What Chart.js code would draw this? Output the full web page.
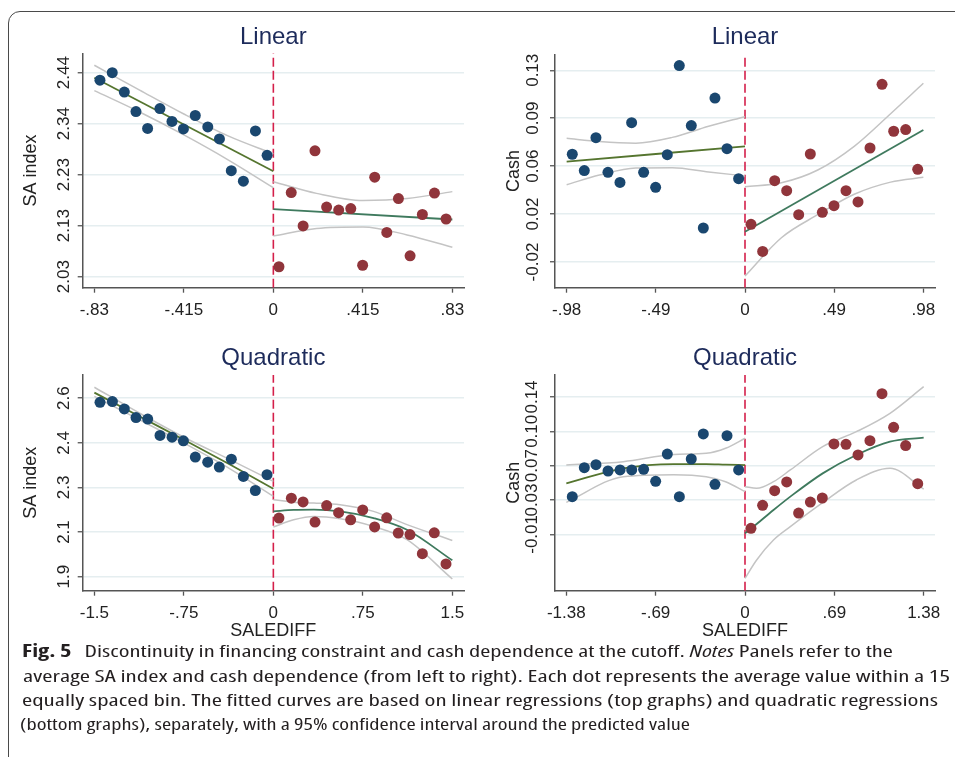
<!DOCTYPE html>
<html><head><meta charset="utf-8">
<script src="https://cdn.jsdelivr.net/npm/chart.js@4/dist/chart.umd.min.js"></script>
<style>
html,body{margin:0;padding:0;background:#fff;width:955px;height:757px;overflow:hidden;position:relative;}
#frame{position:absolute;left:8px;top:11px;width:990px;height:800px;border:1.5px solid #4a4a4a;border-radius:12px;box-sizing:border-box;}
canvas.p{position:absolute;}
.cl{position:absolute;white-space:nowrap;transform-origin:0 0;font-family:"Liberation Sans Narrow","Open Sans",sans-serif;font-stretch:condensed;font-size:17px;line-height:20px;color:#231f20;}
.cl b{font-weight:bold;margin-right:9px;}
</style></head>
<body>
<div id="frame"></div>
<canvas class="p" id="c1" width="478" height="324" style="left:0;top:12px"></canvas>
<canvas class="p" id="c2" width="477" height="324" style="left:478px;top:12px"></canvas>
<canvas class="p" id="c3" width="478" height="310" style="left:0;top:336px"></canvas>
<canvas class="p" id="c4" width="477" height="310" style="left:478px;top:336px"></canvas>
<div class="cl" id="l1" style="left:22px;top:641px"><b>Fig. 5</b>Discontinuity in financing constraint and cash dependence at the cutoff. <i>Notes</i> Panels refer to the</div>
<div class="cl" id="l2" style="left:22.5px;top:665.5px">average SA index and cash dependence (from left to right). Each dot represents the average value within a 15</div>
<div class="cl" id="l3" style="left:22px;top:689.5px">equally spaced bin. The fitted curves are based on linear regressions (top graphs) and quadratic regressions</div>
<div class="cl" id="l4" style="left:20px;top:714px">(bottom graphs), separately, with a 95% confidence interval around the predicted value</div>
<script>
// ---------- Panel 1: SA index, linear ----------
const saLinBinXLeft  = [-0.804,-0.747,-0.691,-0.637,-0.583,-0.526,-0.470,-0.417,-0.362,-0.304,-0.250,-0.195,-0.139,-0.083,-0.029];
const saLinBinYLeft  = [2.425,2.440,2.401,2.362,2.328,2.368,2.342,2.327,2.354,2.331,2.307,2.243,2.222,2.323,2.274];
const saLinBinXRight = [0.026,0.083,0.138,0.193,0.247,0.303,0.359,0.414,0.470,0.526,0.580,0.634,0.691,0.747,0.801];
const saLinBinYRight = [2.050,2.199,2.132,2.283,2.170,2.164,2.167,2.053,2.230,2.119,2.187,2.072,2.155,2.198,2.146];
const saLinFitXLeft  = [-0.83,0];
const saLinFitYLeft  = [2.430,2.242];
const saLinCiXLeft   = [-0.83,-0.62,-0.415,-0.21,0];
const saLinCiHiLeft  = [2.455,2.405,2.357,2.313,2.277];
const saLinCiLoLeft  = [2.404,2.361,2.315,2.265,2.209];
const saLinFitXRight = [0,0.83];
const saLinFitYRight = [2.166,2.145];
const saLinCiXRight  = [0,0.2,0.415,0.62,0.83];
const saLinCiHiRight = [2.221,2.1975,2.183,2.187,2.201];
const saLinCiLoRight = [2.112,2.127,2.130,2.114,2.089];
const saLinXTicks = [-0.83,-0.415,0,0.415,0.83];
const saLinXLabels = ['-.83','-.415','0','.415','.83'];
const saLinYTicks = [2.03,2.1325,2.235,2.3375,2.44];
const saLinYLabels = ['2.03','2.13','2.23','2.34','2.44'];

// ---------- Panel 2: Cash, linear ----------
const cashLinBinXLeft  = [-0.949,-0.883,-0.819,-0.753,-0.687,-0.623,-0.557,-0.491,-0.427,-0.361,-0.295,-0.229,-0.165,-0.099,-0.035];
const cashLinBinYLeft  = [0.0643,0.0515,0.0773,0.0502,0.0423,0.0890,0.0502,0.0384,0.0640,0.1337,0.0867,0.0066,0.1083,0.0687,0.0452];
const cashLinBinXRight = [0.033,0.097,0.163,0.229,0.295,0.359,0.425,0.489,0.555,0.621,0.687,0.753,0.817,0.883,0.949];
const cashLinBinYRight = [0.0095,-0.0117,0.0436,0.0358,0.0170,0.0645,0.0189,0.0241,0.0358,0.0270,0.0692,0.1190,0.0823,0.0836,0.0525];
const cashLinFitXLeft  = [-0.98,0];
const cashLinFitYLeft  = [0.0585,0.0705];
const cashLinCiXLeft   = [-0.98,-0.8,-0.6,-0.4,-0.2,0];
const cashLinCiHiLeft  = [0.0768,0.0742,0.0730,0.0775,0.0862,0.0937];
const cashLinCiLoLeft  = [0.0405,0.0480,0.0535,0.0538,0.0505,0.0473];
const cashLinFitXRight = [0,0.98];
const cashLinFitYRight = [0.0037,0.0833];
const cashLinCiXRight  = [0,0.2,0.4,0.6,0.8,0.98];
const cashLinCiHiRight = [0.0389,0.0420,0.0520,0.0705,0.0960,0.1198];
const cashLinCiLoRight = [-0.031,-0.0010,0.0170,0.0330,0.0425,0.0463];
const cashLinXTicks = [-0.98,-0.49,0,0.49,0.98];
const cashLinXLabels = ['-.98','-.49','0','.49','.98'];
const cashLinYTicks = [-0.02,0.0175,0.055,0.0925,0.13];
const cashLinYLabels = ['-0.02','0.02','0.06','0.09','0.13'];

// ---------- Panel 3: SA index, quadratic ----------
const saQuadBinXLeft  = [-1.453,-1.349,-1.249,-1.151,-1.053,-0.950,-0.849,-0.754,-0.654,-0.550,-0.453,-0.352,-0.251,-0.151,-0.053];
const saQuadBinYLeft  = [2.584,2.587,2.558,2.524,2.518,2.454,2.447,2.433,2.369,2.349,2.330,2.361,2.293,2.238,2.300];
const saQuadBinXRight = [0.047,0.151,0.249,0.349,0.447,0.547,0.648,0.749,0.849,0.950,1.047,1.145,1.249,1.349,1.447];
const saQuadBinYRight = [2.130,2.208,2.193,2.114,2.179,2.151,2.123,2.162,2.095,2.131,2.071,2.065,1.990,2.072,1.950];
const saQuadCurveXLeft = [-1.5,-1.12,-0.75,-0.36,0];
const saQuadFitLeft    = [2.622,2.528,2.437,2.339,2.245];
const saQuadCiHiLeft   = [2.643,2.541,2.447,2.358,2.274];
const saQuadCiLoLeft   = [2.607,2.515,2.424,2.322,2.215];
const saQuadCurveXRight = [0,0.17,0.34,0.56,0.84,1.12,1.5];
const saQuadFitRight    = [2.156,2.162,2.163,2.156,2.130,2.084,1.964];
const saQuadCiHiRight   = [2.202,2.192,2.189,2.182,2.156,2.104,2.042];
const saQuadCiLoRight   = [2.095,2.123,2.136,2.127,2.097,2.045,1.891];
const saQuadXTicks = [-1.5,-0.75,0,0.75,1.5];
const saQuadXLabels = ['-1.5','-.75','0','.75','1.5'];
const saQuadYTicks = [1.9,2.075,2.25,2.425,2.6];
const saQuadYLabels = ['1.9','2.1','2.3','2.4','2.6'];

// ---------- Panel 4: Cash, quadratic ----------
const cashQuadBinXLeft  = [-1.334,-1.241,-1.151,-1.058,-0.965,-0.875,-0.783,-0.690,-0.600,-0.507,-0.415,-0.322,-0.232,-0.139,-0.049];
const cashQuadBinYLeft  = [0.0312,0.0628,0.0661,0.0592,0.0603,0.0603,0.0610,0.0479,0.0777,0.0312,0.0723,0.0996,0.0446,0.0978,0.0603];
const cashQuadBinXRight = [0.046,0.136,0.229,0.322,0.414,0.505,0.597,0.687,0.780,0.873,0.965,1.058,1.148,1.241,1.334];
const cashQuadBinYRight = [-0.0034,0.0217,0.0377,0.0472,0.0133,0.0253,0.0297,0.0887,0.0883,0.0767,0.0923,0.1436,0.1069,0.0869,0.0453];
const cashQuadCurveXLeft = [-1.38,-0.94,-0.55,-0.3,-0.15,0];
const cashQuadFitLeft    = [0.0457,0.0621,0.0668,0.0668,0.0662,0.0657];
const cashQuadCiHiLeft   = [0.0657,0.0694,0.0772,0.0785,0.0840,0.0949];
const cashQuadCiLoLeft   = [0.0250,0.0530,0.0552,0.0530,0.0475,0.0366];
const cashQuadCurveXRight = [0,0.09,0.22,0.35,0.6,0.86,1.12,1.38];
const cashQuadFitRight    = [-0.0089,0.0013,0.0166,0.0312,0.0566,0.0767,0.0912,0.0956];
const cashQuadCiHiRight   = [0.0421,0.0403,0.0475,0.0603,0.0858,0.1021,0.1222,0.1513];
const cashQuadCiLoRight   = [-0.058,-0.038,-0.0162,-0.0016,0.0246,0.0494,0.0621,0.0395];
const cashQuadXTicks = [-1.38,-0.69,0,0.69,1.38];
const cashQuadXLabels = ['-1.38','-.69','0','.69','1.38'];
const cashQuadYTicks = [-0.01,0.0275,0.065,0.1025,0.14];
const cashQuadYLabels = ['-0.01','0.03','0.07','0.10','0.14'];

const cutoff = 0;

// ---------- styling ----------
const FONT = '"Liberation Sans", Arial, Helvetica, sans-serif';
const C_BLUE = '#1a476f', C_RED = '#90353b', C_FITL = '#55752f', C_FITR = '#3f7a5e', C_CI = '#c4c4c4', C_CUT = '#d41f4a';
const C_AXIS = '#555555', C_GRID = '#e5eef0', C_TITLE = '#1d2b5b', C_TEXT = '#222222';

function pts(xs, ys) { return xs.map((x, i) => ({ x: x, y: ys[i] })); }
function line(xs, ys, color, w) {
  return { data: pts(xs, ys), showLine: true, pointRadius: 0, borderColor: color, borderWidth: w,
           backgroundColor: color, cubicInterpolationMode: 'monotone', fill: false };
}

function build(id, P) {
  const ds = [
    { data: pts(P.bxL, P.byL), pointRadius: 5.5, pointBackgroundColor: C_BLUE, pointBorderWidth: 0, backgroundColor: C_BLUE, showLine: false },
    { data: pts(P.bxR, P.byR), pointRadius: 5.5, pointBackgroundColor: C_RED, pointBorderWidth: 0, backgroundColor: C_RED, showLine: false },
    line(P.fxL, P.fyL, C_FITL, 1.8),
    line(P.fxR, P.fyR, C_FITR, 1.8),
    line(P.cxL, P.chL, C_CI, 1.5),
    line(P.cxL, P.clL, C_CI, 1.5),
    line(P.cxR, P.chR, C_CI, 1.5),
    line(P.cxR, P.clR, C_CI, 1.5),
    Object.assign(line([cutoff, cutoff], [P.ymin, P.ymax], C_CUT, 1.6), { borderDash: [9, 4], cubicInterpolationMode: 'default', tension: 0 })
  ];
  const L = P.lay;
  return new Chart(document.getElementById(id), {
    type: 'scatter',
    data: { datasets: ds },
    options: {
      responsive: false, animation: false, devicePixelRatio: 1,
      layout: { padding: { left: 0, right: L.rp, top: 0, bottom: 0 } },
      plugins: {
        legend: { display: false }, tooltip: { enabled: false },
        title: { display: true, text: P.title, color: C_TITLE, fullSize: false,
                 font: { family: FONT, size: 24, weight: 'normal', lineHeight: 1.2 },
                 padding: { top: L.ta, bottom: L.tb } }
      },
      scales: {
        x: {
          type: 'linear', position: 'bottom', min: P.xmin, max: P.xmax,
          afterBuildTicks: s => { s.ticks = P.xt.map(v => ({ value: v })); },
          afterFit: s => { s.height = L.xh; },
          ticks: { autoSkip: false, minRotation: 0, maxRotation: 0, padding: 7, color: C_TEXT,
                   font: { family: FONT, size: 17 }, callback: (v, i) => P.xl[i] },
          grid: { drawOnChartArea: false, drawTicks: true, tickLength: 5, tickColor: C_AXIS, tickWidth: 1.3 },
          border: { display: true, color: C_AXIS, width: 1.5 },
          title: { display: !!P.xtitle, text: P.xtitle || '', color: C_TEXT,
                   font: { family: FONT, size: 18, lineHeight: 1.2 }, padding: { top: 0, bottom: L.xtb } }
        },
        y: {
          type: 'linear', position: 'left', min: P.ymin, max: P.ymax,
          afterBuildTicks: s => { s.ticks = P.yt.map(v => ({ value: v })); },
          afterFit: s => { s.width = L.yw; },
          ticks: { autoSkip: false, minRotation: 90, maxRotation: 90, crossAlign: 'center', padding: L.yp,
                   color: C_TEXT, font: { family: FONT, size: 17 }, callback: (v, i) => P.yl[i] },
          grid: { drawOnChartArea: true, color: C_GRID, lineWidth: 1.5, drawTicks: true, tickLength: 5, tickColor: C_AXIS, tickWidth: 1.3 },
          border: { display: true, color: C_AXIS, width: 1.5 },
          title: { display: true, text: P.ytitle, color: C_TEXT,
                   font: { family: FONT, size: 18, lineHeight: 1.2 }, padding: { top: L.ytp, bottom: 0 } }
        }
      }
    }
  });
}

build('c1', {
  title: 'Linear', ytitle: 'SA index', xtitle: null,
  bxL: saLinBinXLeft, byL: saLinBinYLeft, bxR: saLinBinXRight, byR: saLinBinYRight,
  fxL: saLinFitXLeft, fyL: saLinFitYLeft, fxR: saLinFitXRight, fyR: saLinFitYRight,
  cxL: saLinCiXLeft, chL: saLinCiHiLeft, clL: saLinCiLoLeft,
  cxR: saLinCiXRight, chR: saLinCiHiRight, clR: saLinCiLoRight,
  xt: saLinXTicks, xl: saLinXLabels, yt: saLinYTicks, yl: saLinYLabels,
  xmin: -0.884, xmax: 0.884, ymin: 2.0079, ymax: 2.479,
  lay: { rp: 14, ta: 11.3, tb: 1.2, xh: 48.3, yw: 82.7, yp: -3, ytp: 20.2, xtb: 0 }
});
build('c2', {
  title: 'Linear', ytitle: 'Cash', xtitle: null,
  bxL: cashLinBinXLeft, byL: cashLinBinYLeft, bxR: cashLinBinXRight, byR: cashLinBinYRight,
  fxL: cashLinFitXLeft, fyL: cashLinFitYLeft, fxR: cashLinFitXRight, fyR: cashLinFitYRight,
  cxL: cashLinCiXLeft, chL: cashLinCiHiLeft, clL: cashLinCiLoLeft,
  cxR: cashLinCiXRight, chR: cashLinCiHiRight, clR: cashLinCiLoRight,
  xt: cashLinXTicks, xl: cashLinXLabels, yt: cashLinYTicks, yl: cashLinYLabels,
  xmin: -1.044, xmax: 1.044, ymin: -0.0401, ymax: 0.1425,
  lay: { rp: 20, ta: 11.3, tb: 2.2, xh: 48.3, yw: 77, yp: -2.7, ytp: 25.2, xtb: 0 }
});
build('c3', {
  title: 'Quadratic', ytitle: 'SA index', xtitle: 'SALEDIFF',
  bxL: saQuadBinXLeft, byL: saQuadBinYLeft, bxR: saQuadBinXRight, byR: saQuadBinYRight,
  fxL: saQuadCurveXLeft, fyL: saQuadFitLeft, fxR: saQuadCurveXRight, fyR: saQuadFitRight,
  cxL: saQuadCurveXLeft, chL: saQuadCiHiLeft, clL: saQuadCiLoLeft,
  cxR: saQuadCurveXRight, chR: saQuadCiHiRight, clR: saQuadCiLoRight,
  xt: saQuadXTicks, xl: saQuadXLabels, yt: saQuadYTicks, yl: saQuadYLabels,
  xmin: -1.598, xmax: 1.598, ymin: 1.845, ymax: 2.691,
  lay: { rp: 14, ta: 7.6, tb: 2.6, xh: 55.3, yw: 82.7, yp: 1.7, ytp: 20.2, xtb: 4.4 }
});
build('c4', {
  title: 'Quadratic', ytitle: 'Cash', xtitle: 'SALEDIFF',
  bxL: cashQuadBinXLeft, byL: cashQuadBinYLeft, bxR: cashQuadBinXRight, byR: cashQuadBinYRight,
  fxL: cashQuadCurveXLeft, fyL: cashQuadFitLeft, fxR: cashQuadCurveXRight, fyR: cashQuadFitRight,
  cxL: cashQuadCurveXLeft, chL: cashQuadCiHiLeft, clL: cashQuadCiLoLeft,
  cxR: cashQuadCurveXRight, chR: cashQuadCiHiRight, clR: cashQuadCiLoRight,
  xt: cashQuadXTicks, xl: cashQuadXLabels, yt: cashQuadYTicks, yl: cashQuadYLabels,
  xmin: -1.4675, xmax: 1.4675, ymin: -0.0715, ymax: 0.164,
  lay: { rp: 20, ta: 7.6, tb: 2.6, xh: 55.3, yw: 77, yp: -1.9, ytp: 25.2, xtb: 4.4 }
});

// fit caption lines to the reference widths
const capTargets = { l1: 871, l2: 927, l3: 916, l4: 670 };
Object.keys(capTargets).forEach(id => {
  const el = document.getElementById(id);
  const w = el.getBoundingClientRect().width;
  if (w > 0) el.style.transform = 'scaleX(' + (capTargets[id] / w) + ')';
});
</script>
</body></html>
